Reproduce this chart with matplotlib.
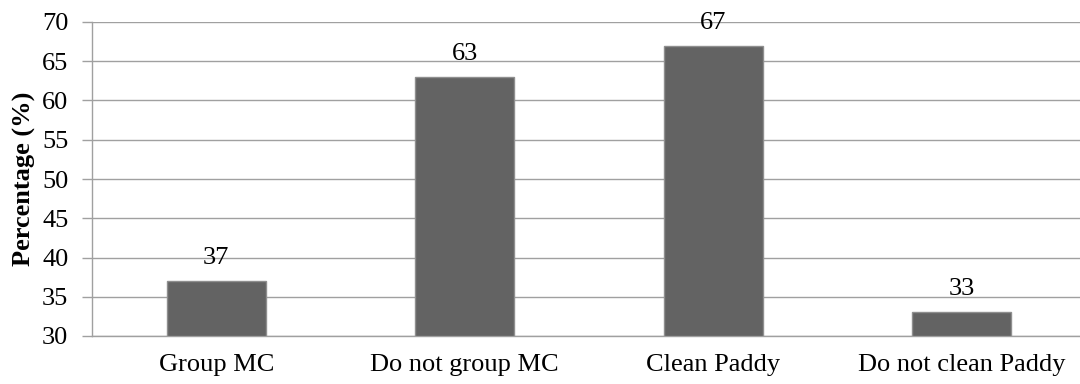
import matplotlib
matplotlib.use("Agg")
import matplotlib.pyplot as plt

categories = ["Group MC", "Do not group MC", "Clean Paddy", "Do not clean Paddy"]
values = [37, 63, 67, 33]
yticks = [30, 35, 40, 45, 50, 55, 60, 65, 70]

plt.rcParams['font.family'] = ['Liberation Serif', 'DejaVu Serif']
FS = 19

fig = plt.figure(figsize=(10.8, 3.84), dpi=100)
ax = fig.add_axes([92/1080, 1 - 336/384, 994/1080, 314/384])

x = list(range(len(categories)))
bars = ax.bar(x, [v - 30 for v in values], bottom=30, width=0.4,
              color="#636363", edgecolor="#8f8f8f", linewidth=1, zorder=3)
for xi, v in zip(x, values):
    ax.annotate(str(v), (xi, v), xytext=(0, 12), textcoords="offset pixels",
                ha="center", va="bottom", fontsize=FS, color="black", zorder=4)

ax.set_xlim(-0.5, len(categories) - 0.5)
ax.set_ylim(30, 70)
ax.set_yticks(yticks)
ax.set_xticks(x)
ax.set_xticklabels(categories, fontsize=FS)
ax.tick_params(axis="y", labelsize=FS, length=7, color="#a0a0a0", width=1, pad=10)
ax.tick_params(axis="x", length=0, pad=13)
ax.yaxis.grid(True, color="#a0a0a0", linewidth=1, zorder=0)
ax.set_axisbelow(True)
for s in ["top", "right"]:
    ax.spines[s].set_visible(False)
for s in ["left", "bottom"]:
    ax.spines[s].set_color("#a0a0a0")
    ax.spines[s].set_linewidth(1)
ax.set_ylabel("Percentage (%)", fontsize=FS, fontweight="bold", labelpad=4)

fig.savefig("out.png", dpi=100, facecolor="white")
